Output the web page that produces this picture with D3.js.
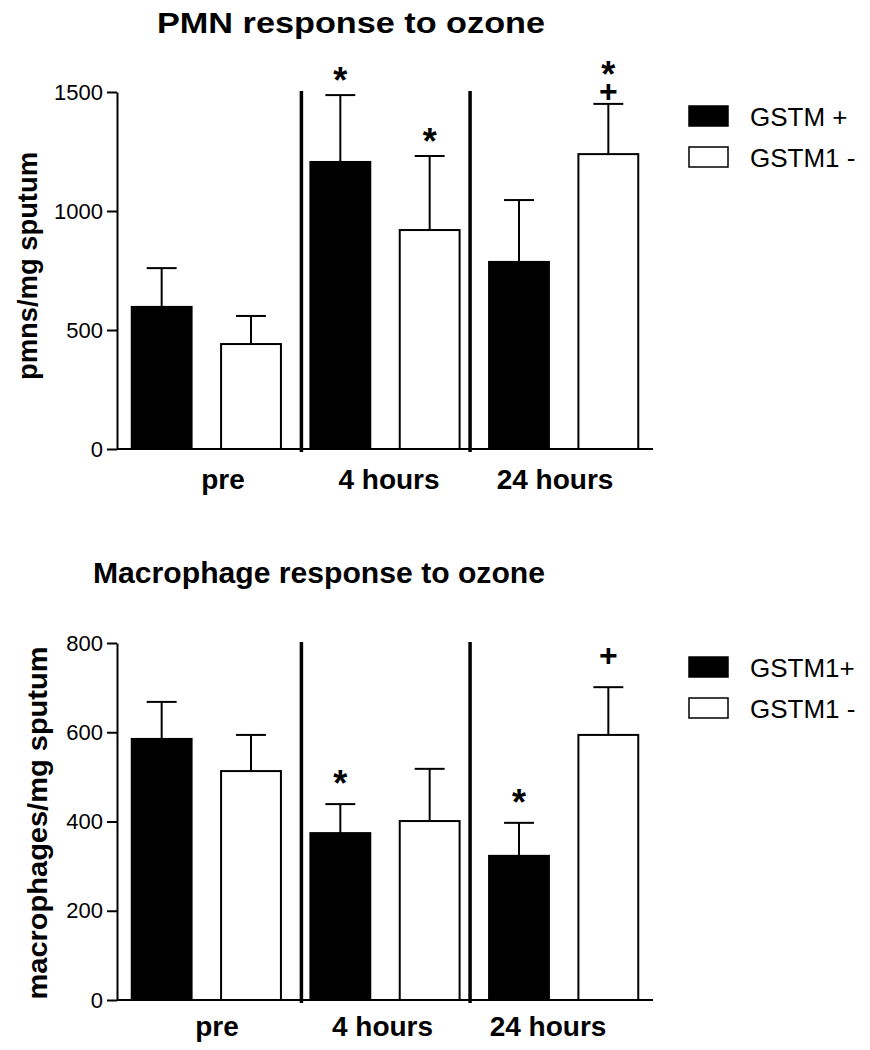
<!DOCTYPE html>
<html>
<head>
<meta charset="utf-8">
<script src="https://cdn.jsdelivr.net/npm/d3@7"></script>
<style>
  html, body { margin: 0; padding: 0; background: #fff; }
  svg { display: block; font-family: "Liberation Sans", Arial, Helvetica, sans-serif; }
</style>
</head>
<body>
<svg id="chart" width="870" height="1050"></svg>
<script>
// ---------------- DATA ----------------
const groups = ["pre", "4 hours", "24 hours"];

// PMN response (pmns/mg sputum)
const pmnTitle = "PMN response to ozone";
const pmnYLabel = "pmns/mg sputum";
const pmnTicks = [0, 500, 1000, 1500];
const pmnPos = [597, 1206, 786];      // GSTM +
const pmnPosSem = [163, 281, 260];
const pmnNeg = [441, 920, 1239];      // GSTM1 -
const pmnNegSem = [118, 311, 211];
const pmnPosMarks = ["", "*", ""];
const pmnNegMarks = ["", "*", "+*"];
const pmnLegend = ["GSTM +", "GSTM1 -"];

// Macrophage response (macrophages/mg sputum)
const macTitle = "Macrophage response to ozone";
const macYLabel = "macrophages/mg sputum";
const macTicks = [0, 200, 400, 600, 800];
const macPos = [585, 374, 323];       // GSTM1+
const macPosSem = [83, 65, 74];
const macNeg = [513, 401, 594];       // GSTM1 -
const macNegSem = [81, 117, 107];
const macPosMarks = ["", "*", "*"];
const macNegMarks = ["", "", "+"];
const macLegend = ["GSTM1+", "GSTM1 -"];

// ---------------- DRAW ----------------
const svg = d3.select("#chart");

function drawPanel(cfg) {
  const g = svg.append("g");
  const x0 = 117, x1 = 653;
  const y = d3.scaleLinear().domain([0, cfg.ticks[cfg.ticks.length - 1]]).range([cfg.base, cfg.top]);

  const bars = [];
  groups.forEach((grp, i) => {
    bars.push({ key: grp + "|pos", grp, v: cfg.pos[i], sem: cfg.posSem[i], marks: cfg.posMarks[i], fill: "#000" });
    bars.push({ key: grp + "|neg", grp, v: cfg.neg[i], sem: cfg.negSem[i], marks: cfg.negMarks[i], fill: "#fff" });
  });
  const x = d3.scaleBand().domain(bars.map(d => d.key)).range([x0, x1])
    .paddingInner(0.33).paddingOuter(0.165);
  const bw = x.bandwidth();

  // title
  g.append("text")
    .attr("x", cfg.titleX).attr("y", cfg.titleY)
    .attr("text-anchor", "middle")
    .attr("font-weight", "bold").attr("font-size", 29)
    .attr("textLength", cfg.titleLen).attr("lengthAdjust", "spacingAndGlyphs")
    .text(cfg.title);

  // y label
  g.append("text")
    .attr("transform", `translate(${cfg.yLabX},${cfg.yLabY}) rotate(-90)`)
    .attr("text-anchor", "middle")
    .attr("font-weight", "bold").attr("font-size", 28)
    .attr("textLength", cfg.yLabLen).attr("lengthAdjust", "spacingAndGlyphs")
    .text(cfg.yLabel);

  // error bars
  const eb = g.append("g").attr("stroke", "#000").attr("stroke-width", 2);
  bars.forEach(d => {
    const cx = x(d.key) + bw / 2;
    eb.append("line").attr("x1", cx).attr("x2", cx).attr("y1", y(d.v)).attr("y2", y(d.v + d.sem));
    eb.append("line").attr("x1", cx - bw / 4).attr("x2", cx + bw / 4).attr("y1", y(d.v + d.sem)).attr("y2", y(d.v + d.sem));
  });

  // bars
  g.append("g").selectAll("rect").data(bars).join("rect")
    .attr("x", d => x(d.key)).attr("width", bw)
    .attr("y", d => y(d.v)).attr("height", d => y(0) - y(d.v))
    .attr("fill", d => d.fill).attr("stroke", "#000").attr("stroke-width", 2);

  // significance marks (one text element per bar, stacked tspans)
  bars.filter(d => d.marks).forEach(d => {
    const cx = x(d.key) + bw / 2;
    let cy = y(d.v + d.sem);
    const t = g.append("text").attr("text-anchor", "middle").attr("font-weight", "bold");
    d.marks.split("").forEach((m, k) => {
      if (m === "+") {
        cy -= (k === 0 ? cfg.plusGap : 22);
        t.append("tspan").attr("x", cx).attr("y", cy + 11).attr("font-size", 32).text("+");
      } else {
        cy -= (k === 0 ? cfg.starGap : 23);
        t.append("tspan").attr("x", cx).attr("y", cy + 19).attr("font-size", 36).text("*");
      }
    });
  });

  // y axis
  const yAxis = d3.axisLeft(y).tickValues(cfg.ticks).tickSize(10).tickSizeOuter(0).tickPadding(4)
    .tickFormat(d3.format("d"));
  const ya = g.append("g").attr("transform", `translate(${x0},0)`).call(yAxis);
  ya.selectAll("path, line").attr("stroke", "#000").attr("stroke-width", 2);
  ya.selectAll("text").attr("font-size", 22).attr("fill", "#000")
    .attr("font-family", "\"Liberation Sans\", Arial, sans-serif");

  // x axis baseline
  g.append("line").attr("x1", x0).attr("x2", x1).attr("y1", y(0)).attr("y2", y(0))
    .attr("stroke", "#000").attr("stroke-width", 2);

  // separators between groups
  const sepPos = [x(groups[1] + "|pos") - 9, x(groups[2] + "|pos") - 19];
  sepPos.forEach(sx => {
    g.append("line").attr("x1", sx).attr("x2", sx).attr("y1", y(y.domain()[1]) - 1).attr("y2", y(0) + 3)
      .attr("stroke", "#000").attr("stroke-width", 3.5);
  });

  // category labels
  const xl = d3.scalePoint().domain(groups).range(cfg.labRange);
  g.append("g").selectAll("text").data(groups).join("text")
    .attr("x", d => xl(d)).attr("y", cfg.labY)
    .attr("text-anchor", "middle").attr("font-weight", "bold").attr("font-size", 28)
    .text(d => d);

  // legend
  const lg = g.append("g");
  cfg.legend.forEach((name, i) => {
    lg.append("rect").attr("x", 689).attr("y", cfg.legY + i * 41).attr("width", 39).attr("height", 20)
      .attr("fill", i === 0 ? "#000" : "#fff").attr("stroke", "#000").attr("stroke-width", 1.5);
    lg.append("text").attr("x", 750).attr("y", cfg.legY + 20 + i * 41)
      .attr("font-size", 26).text(name);
  });
}

drawPanel({
  title: pmnTitle, titleX: 351, titleY: 33, titleLen: 388,
  yLabel: pmnYLabel, yLabX: 37, yLabY: 266, yLabLen: 228,
  ticks: pmnTicks, base: 449, top: 92,
  pos: pmnPos, posSem: pmnPosSem, neg: pmnNeg, negSem: pmnNegSem,
  posMarks: pmnPosMarks, negMarks: pmnNegMarks,
  starGap: 21, plusGap: 13,
  labRange: [223, 555], labY: 489,
  legend: pmnLegend, legY: 106
});

drawPanel({
  title: macTitle, titleX: 319, titleY: 583, titleLen: 452,
  yLabel: macYLabel, yLabX: 47, yLabY: 823, yLabLen: 353,
  ticks: macTicks, base: 1000, top: 643,
  pos: macPos, posSem: macPosSem, neg: macNeg, negSem: macNegSem,
  posMarks: macPosMarks, negMarks: macNegMarks,
  starGap: 27, plusGap: 32,
  labRange: [217, 548], labY: 1036,
  legend: macLegend, legY: 657
});
</script>
</body>
</html>
